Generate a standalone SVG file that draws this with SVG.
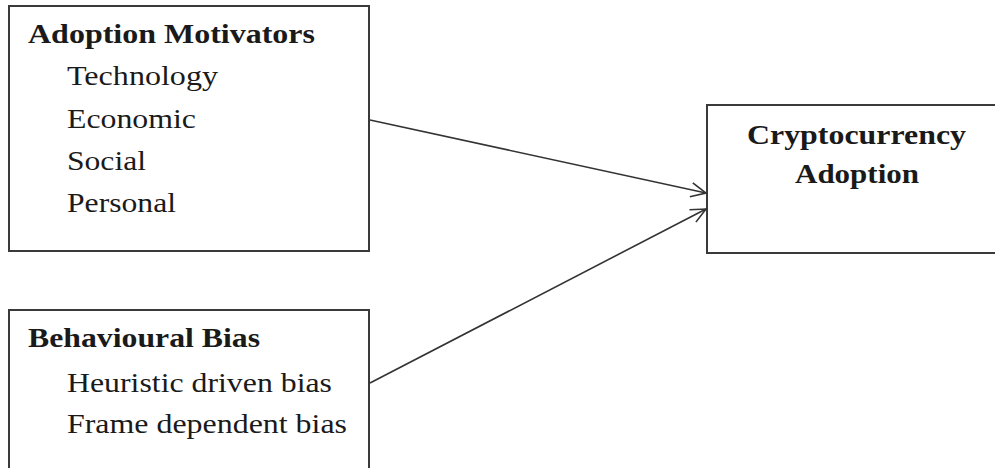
<svg xmlns="http://www.w3.org/2000/svg" width="995" height="468" viewBox="0 0 995 468">
<style>
.box{fill:#fff;stroke:#3a3a3a;stroke-width:2}
.t{font-family:'Liberation Serif',Tinos,'Times New Roman',Times,serif;font-size:27px;fill:#1a1a1a}
.b{font-weight:bold}
.c{fill:none;stroke:#333;stroke-width:1.6}
</style>
<defs>
<marker id="ah" markerUnits="userSpaceOnUse" markerWidth="20" markerHeight="20" refX="16" refY="8" orient="auto">
<path d="M1,1 L16,8 L1,15" fill="none" stroke="#333" stroke-width="1.6"/>
</marker>
</defs>
<rect width="995" height="468" fill="#fff"/>
<g id="adoption-motivators">
<rect class="box" x="9" y="6" width="360" height="245"/>
<text class="t b" x="28" y="43" textLength="287" lengthAdjust="spacingAndGlyphs">Adoption Motivators</text>
<text class="t" x="67" y="85" textLength="151" lengthAdjust="spacingAndGlyphs">Technology</text>
<text class="t" x="67" y="128" textLength="129" lengthAdjust="spacingAndGlyphs">Economic</text>
<text class="t" x="67" y="170" textLength="79" lengthAdjust="spacingAndGlyphs">Social</text>
<text class="t" x="67" y="212" textLength="109" lengthAdjust="spacingAndGlyphs">Personal</text>
</g>
<g id="behavioural-bias">
<rect class="box" x="9" y="310" width="360" height="170"/>
<text class="t b" x="28" y="347" textLength="232" lengthAdjust="spacingAndGlyphs">Behavioural Bias</text>
<text class="t" x="67" y="392" textLength="265" lengthAdjust="spacingAndGlyphs">Heuristic driven bias</text>
<text class="t" x="67" y="433" textLength="280" lengthAdjust="spacingAndGlyphs">Frame dependent bias</text>
</g>
<g id="cryptocurrency-adoption">
<rect class="box" x="707" y="105" width="300" height="148"/>
<text class="t b" x="747" y="144" textLength="219" lengthAdjust="spacingAndGlyphs">Cryptocurrency</text>
<text class="t b" x="795" y="183" textLength="124" lengthAdjust="spacingAndGlyphs">Adoption</text>
</g>
<g id="connectors">
<line class="c" x1="370" y1="120" x2="706" y2="193" marker-end="url(#ah)"/>
<line class="c" x1="370" y1="383" x2="706" y2="209" marker-end="url(#ah)"/>
</g>
</svg>
